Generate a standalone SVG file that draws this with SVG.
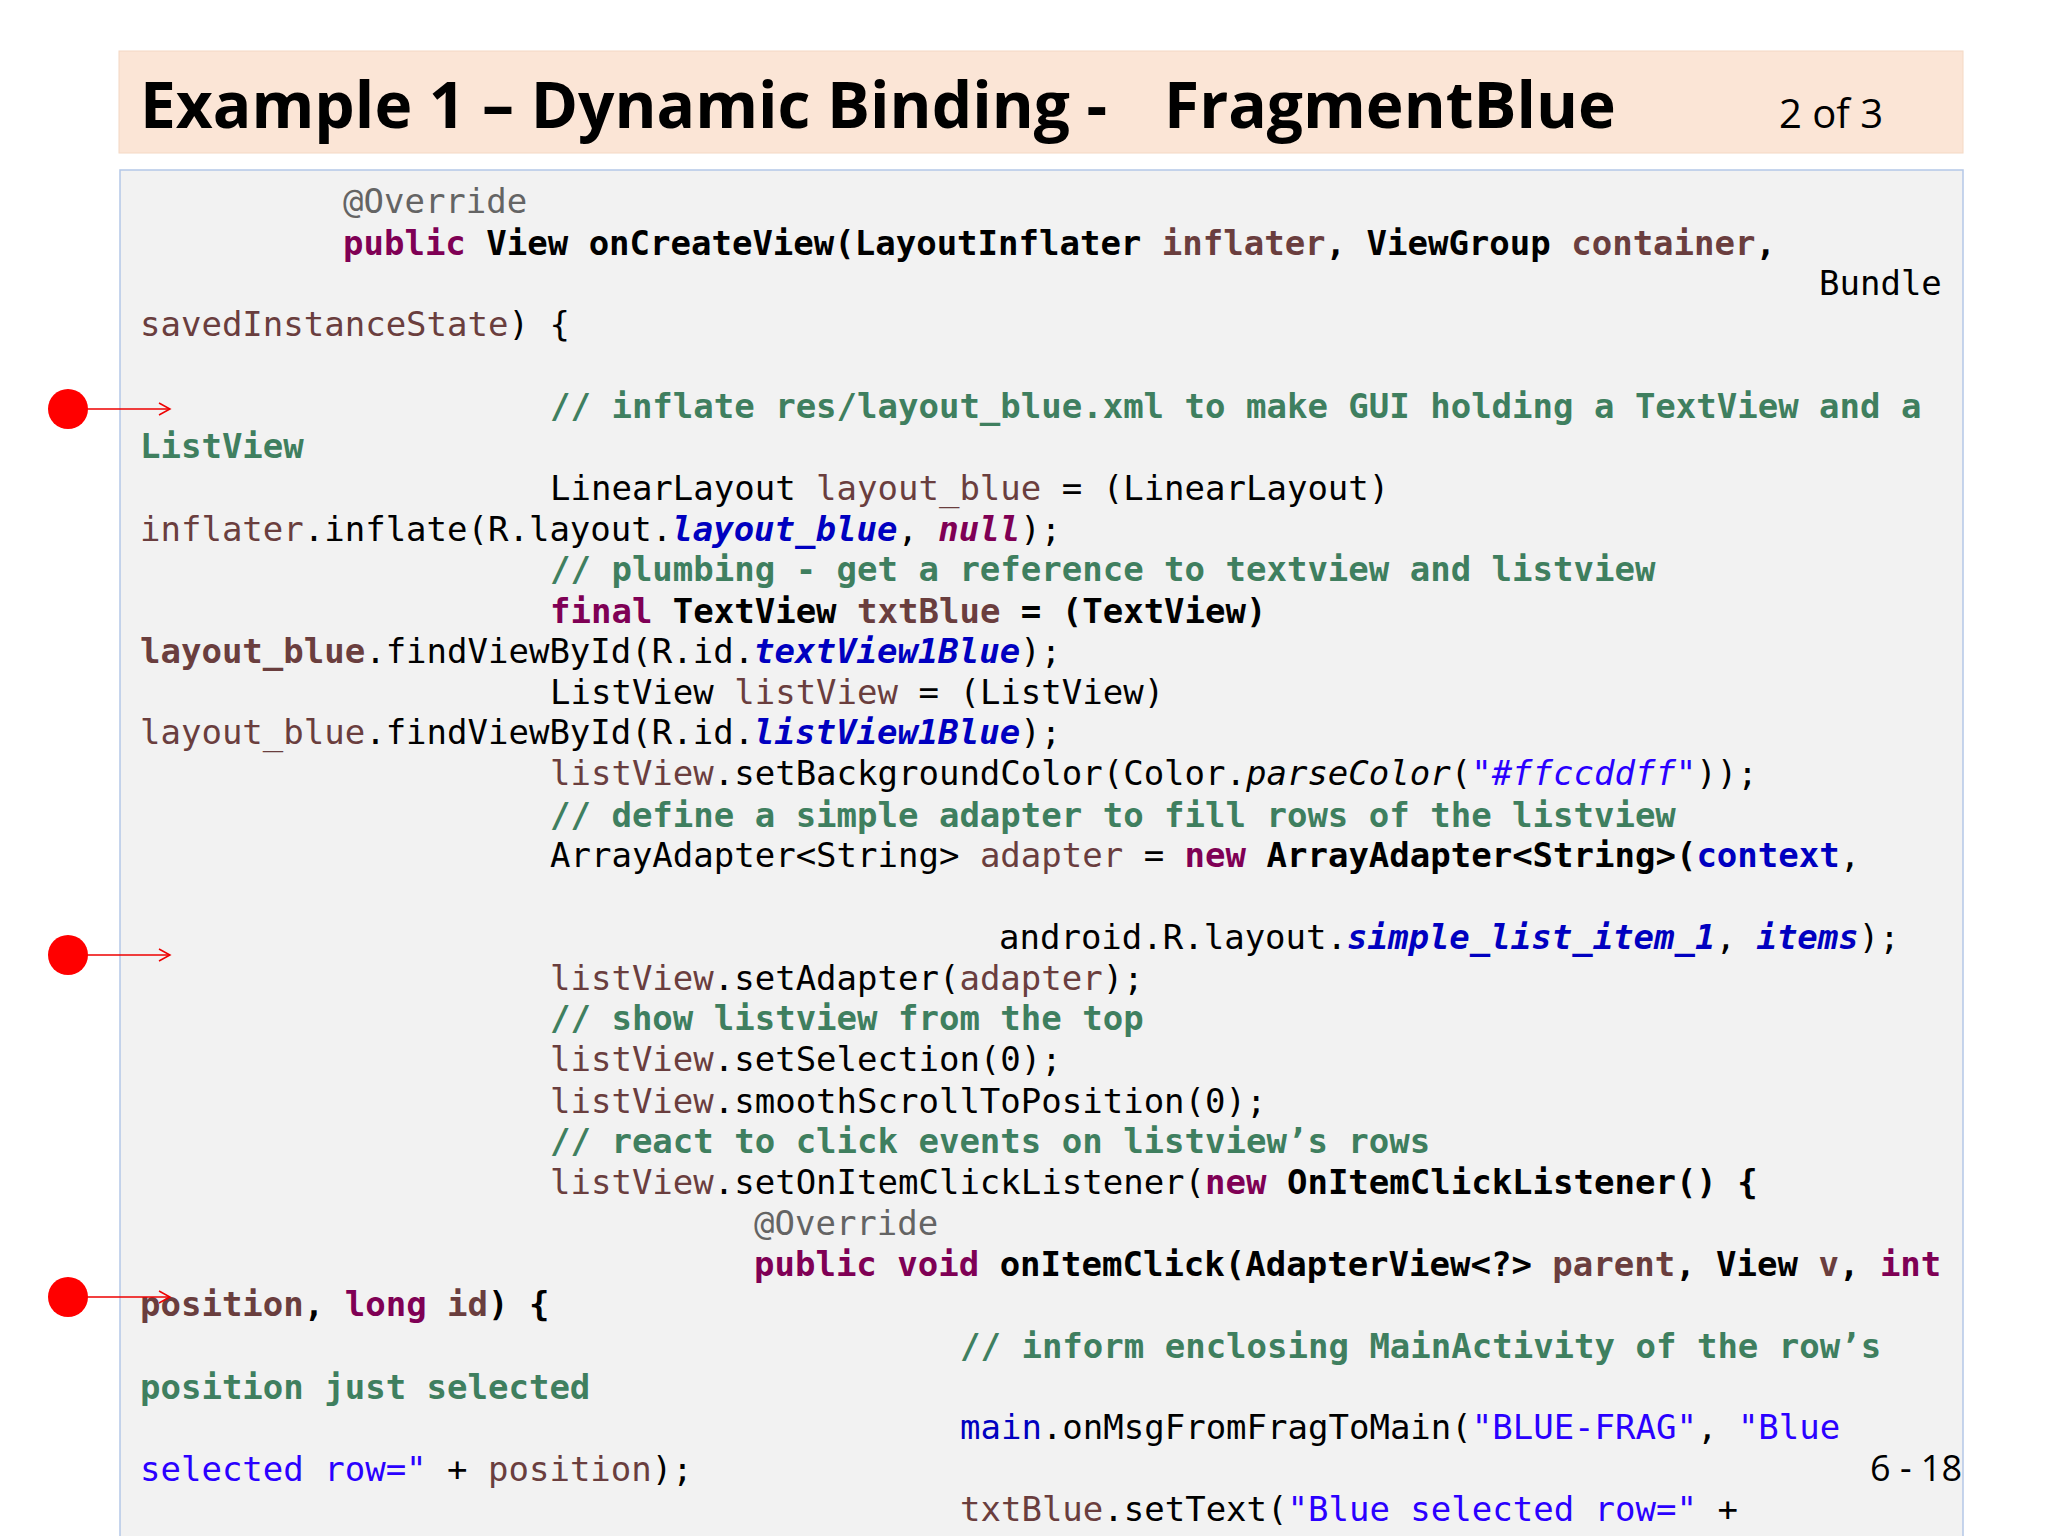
<svg xmlns="http://www.w3.org/2000/svg" width="2048" height="1536" viewBox="0 0 2048 1536">
<style>
.c{font-family:"DejaVu Sans Mono",monospace;font-size:34px;fill:#000;white-space:pre}
.k{fill:#7f0055;font-weight:bold}
.f{fill:#6a3e3e}
.b{font-weight:bold}
.cm{fill:#3f7f5f;font-weight:bold}
.bi{fill:#0000c0;font-weight:bold;font-style:italic}
.bl{fill:#0000c0}
.s{fill:#2a00ff}
.i{font-style:italic}
.g{fill:#646464}
</style>
<defs><marker id="ah" markerWidth="14" markerHeight="14" refX="12" refY="7" orient="auto" markerUnits="userSpaceOnUse"><path d="M1,1 L12,7 L1,13" fill="none" stroke="#e00" stroke-width="1.5"/></marker></defs>
<rect width="2048" height="1536" fill="#fff"/>
<g id="header">
<rect x="119" y="51" width="1844" height="102" fill="#fbe5d6" stroke="#f4d8c4"/>
<text x="140" y="128" font-family="Open Sans, sans-serif" font-weight="bold" font-size="64">Example 1 – Dynamic Binding -</text>
<text x="1164" y="128" font-family="Open Sans, sans-serif" font-weight="bold" font-size="64">FragmentBlue</text>
<text x="1779" y="128" font-family="Open Sans, sans-serif" font-size="40">2  of 3</text>
</g>
<g id="code">
<rect x="120" y="170" width="1843" height="1380" fill="#f2f2f2" stroke="#b4c7e7" stroke-width="1.5"/>
<text class="c" x="343" y="213"><tspan class="g">@Override</tspan></text>
<text class="c b" x="343" y="255"><tspan class="k">public</tspan> View onCreateView(LayoutInflater <tspan class="f">inflater</tspan>, ViewGroup <tspan class="f">container</tspan>,</text>
<text class="c" x="1819" y="295">Bundle</text>
<text class="c" x="140" y="336"><tspan class="f">savedInstanceState</tspan>) {</text>
<text class="c cm" x="550" y="418">// inflate res/layout_blue.xml to make GUI holding a TextView and a</text>
<text class="c cm" x="140" y="458">ListView</text>
<text class="c" x="550" y="500">LinearLayout <tspan class="f">layout_blue</tspan> = (LinearLayout)</text>
<text class="c" x="140" y="541"><tspan class="f">inflater</tspan>.inflate(R.layout.<tspan class="bi">layout_blue</tspan>, <tspan class="k i">null</tspan>);</text>
<text class="c cm" x="550" y="581">// plumbing - get a reference to textview and listview</text>
<text class="c b" x="550" y="623"><tspan class="k">final</tspan> TextView <tspan class="f">txtBlue</tspan> = (TextView)</text>
<text class="c" x="140" y="663"><tspan class="f b">layout_blue</tspan>.findViewById(R.id.<tspan class="bi">textView1Blue</tspan>);</text>
<text class="c" x="550" y="704">ListView <tspan class="f">listView</tspan> = (ListView)</text>
<text class="c" x="140" y="744"><tspan class="f">layout_blue</tspan>.findViewById(R.id.<tspan class="bi">listView1Blue</tspan>);</text>
<text class="c" x="550" y="785"><tspan class="f">listView</tspan>.setBackgroundColor(Color.<tspan class="i">parseColor</tspan>(<tspan class="s i">"#ffccddff"</tspan>));</text>
<text class="c cm" x="550" y="827">// define a simple adapter to fill rows of the listview</text>
<text class="c" x="550" y="867">ArrayAdapter&lt;String&gt; <tspan class="f">adapter</tspan> = <tspan class="k">new</tspan> <tspan class="b">ArrayAdapter&lt;String&gt;(</tspan><tspan class="bl b">context</tspan>,</text>
<text class="c" x="999" y="949">android.R.layout.<tspan class="bi">simple_list_item_1</tspan>, <tspan class="bi">items</tspan>);</text>
<text class="c" x="550" y="990"><tspan class="f">listView</tspan>.setAdapter(<tspan class="f">adapter</tspan>);</text>
<text class="c cm" x="550" y="1030">// show listview from the top</text>
<text class="c" x="550" y="1071"><tspan class="f">listView</tspan>.setSelection(0);</text>
<text class="c" x="550" y="1113"><tspan class="f">listView</tspan>.smoothScrollToPosition(0);</text>
<text class="c cm" x="550" y="1153">// react to click events on listview’s rows</text>
<text class="c" x="550" y="1194"><tspan class="f">listView</tspan>.setOnItemClickListener(<tspan class="k">new</tspan> <tspan class="b">OnItemClickListener() {</tspan></text>
<text class="c" x="754" y="1235"><tspan class="g">@Override</tspan></text>
<text class="c b" x="754" y="1276"><tspan class="k">public void</tspan> onItemClick(AdapterView&lt;?&gt; <tspan class="f">parent</tspan>, View <tspan class="f">v</tspan>, <tspan class="k">int</tspan></text>
<text class="c b" x="140" y="1316"><tspan class="f">position</tspan>, <tspan class="k">long</tspan> <tspan class="f">id</tspan>) {</text>
<text class="c cm" x="960" y="1358">// inform enclosing MainActivity of the row’s</text>
<text class="c cm" x="140" y="1399">position just selected</text>
<text class="c" x="960" y="1439"><tspan class="bl">main</tspan>.onMsgFromFragToMain(<tspan class="s">"BLUE-FRAG"</tspan>, <tspan class="s">"Blue</tspan></text>
<text class="c" x="140" y="1481"><tspan class="s">selected row="</tspan> + <tspan class="f">position</tspan>);</text>
<text class="c" x="960" y="1521"><tspan class="f">txtBlue</tspan>.setText(<tspan class="s">"Blue selected row="</tspan> +</text>
<text x="1870" y="1481" font-family="Open Sans, sans-serif" font-size="36">6 - 18</text>
</g>
<g id="connectors">
<line x1="68" y1="409" x2="170" y2="409" stroke="#e00" stroke-width="1.5" marker-end="url(#ah)"/>
<line x1="68" y1="955" x2="170" y2="955" stroke="#e00" stroke-width="1.5" marker-end="url(#ah)"/>
<line x1="68" y1="1297" x2="170" y2="1297" stroke="#e00" stroke-width="1.5" marker-end="url(#ah)"/>
</g>
<g id="dots" fill="#f00">
<circle cx="68" cy="409" r="20"/>
<circle cx="68" cy="955" r="20"/>
<circle cx="68" cy="1297" r="20"/>
</g>
</svg>
